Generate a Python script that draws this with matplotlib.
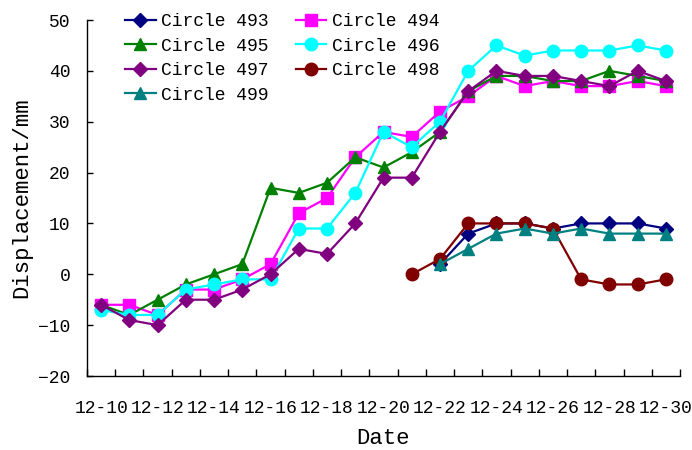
import matplotlib
matplotlib.use("Agg")
import matplotlib.pyplot as plt
import numpy as np

plt.rcParams['font.family'] = ['Liberation Mono', 'DejaVu Sans']
plt.rcParams['axes.unicode_minus'] = True

dates = ["12-10", "12-11", "12-12", "12-13", "12-14", "12-15", "12-16", "12-17",
         "12-18", "12-19", "12-20", "12-21", "12-22", "12-23", "12-24", "12-25",
         "12-26", "12-27", "12-28", "12-29", "12-30"]
N = None
c493 = [N, N, N, N, N, N, N, N, N, N, N, N, 2, 8, 10, 10, 9, 10, 10, 10, 9]
c494 = [-6, -6, -8, -3, -3, -1, 2, 12, 15, 23, 28, 27, 32, 35, 39, 37, 38, 37, 37, 38, 37]
c495 = [-6, -8, -5, -2, 0, 2, 17, 16, 18, 23, 21, 24, 28, 36, 39, 39, 38, 38, 40, 39, 38]
c496 = [-7, -8, -8, -3, -2, -1, -1, 9, 9, 16, 28, 25, 30, 40, 45, 43, 44, 44, 44, 45, 44]
c497 = [-6, -9, -10, -5, -5, -3, 0, 5, 4, 10, 19, 19, 28, 36, 40, 39, 39, 38, 37, 40, 38]
c498 = [N, N, N, N, N, N, N, N, N, N, N, 0, 3, 10, 10, 10, 9, -1, -2, -2, -1]
c499 = [N, N, N, N, N, N, N, N, N, N, N, N, 2, 5, 8, 9, 8, 9, 8, 8, 8]

series = [
    ("Circle 493", c493, "#000080", "D", 7),
    ("Circle 494", c494, "#FF00FF", "s", 8),
    ("Circle 495", c495, "#008000", "^", 9),
    ("Circle 496", c496, "#00FFFF", "o", 9),
    ("Circle 497", c497, "#800080", "D", 7),
    ("Circle 498", c498, "#800000", "o", 9),
    ("Circle 499", c499, "#008080", "^", 9),
]

fig = plt.figure(figsize=(6.92, 4.5), dpi=100)
ax = fig.add_axes([87/692, 1 - 376/450, (680-87)/692, (376-20)/450])

x = np.arange(len(dates))
handles = []
for name, vals, col, mk, ms in series:
    v = np.array([np.nan if a is None else a for a in vals], dtype=float)
    h, = ax.plot(x, v, color=col, marker=mk, markersize=ms, linewidth=1.6,
                 markeredgecolor=col, label=name)
    handles.append(h)

ax.set_xlim(-0.5, len(dates) - 0.5)
ax.set_ylim(-20, 50)
ax.set_yticks(np.arange(-20, 51, 10))
ax.set_xticks(x[::2])
ax.set_xticklabels(dates[::2])
ax.set_xticks(np.arange(-0.5, len(dates), 1.0), minor=True)
ax.tick_params(axis='x', which='major', length=0, pad=17, labelsize=13)
ax.tick_params(axis='x', which='minor', direction='in', length=5, width=1)
ax.tick_params(axis='y', direction='in', length=4, width=1, pad=12, labelsize=13)
for s in ['top', 'right']:
    ax.spines[s].set_visible(False)
for s in ['left', 'bottom']:
    ax.spines[s].set_linewidth(1.0)

ax.set_xlabel("Date", fontsize=16, labelpad=8)
ax.set_ylabel("Displacement/mm", fontsize=16, labelpad=4)

order = [0, 2, 4, 6, 1, 3, 5]
ax.legend([handles[i] for i in order], [series[i][0] for i in order],
          loc='upper left', bbox_to_anchor=(125/692, 1 - 13/450),
          bbox_transform=fig.transFigure, ncol=2, frameon=False,
          fontsize=13, handlelength=1.7, handletextpad=0.3,
          columnspacing=1.5, labelspacing=0.42, borderpad=0, borderaxespad=0)

fig.savefig("out.png", dpi=100)
